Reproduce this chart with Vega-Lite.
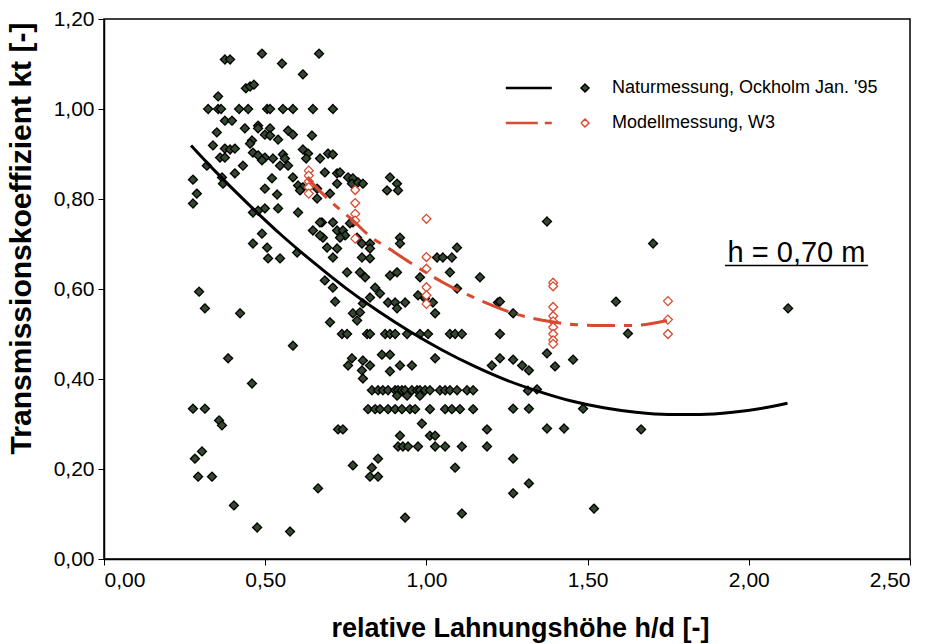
{
  "$schema": "https://vega.github.io/schema/vega-lite/v6.json",
  "width": 806,
  "height": 540,
  "autosize": {"type": "none"},
  "padding": {"left": 104, "top": 19, "right": 42, "bottom": 86},
  "background": "#ffffff",
  "config": {
    "view": {"stroke": "#000000", "strokeWidth": 1.5},
    "font": "Liberation Sans",
    "axis": {
      "grid": false,
      "domainColor": "#000000",
      "domainWidth": 1.5,
      "tickColor": "#000000",
      "tickSize": 6,
      "labelFont": "Liberation Sans",
      "labelFontSize": 21,
      "labelColor": "#000000",
      "titleFont": "Liberation Sans",
      "titleFontSize": 27,
      "titleFontWeight": "bold",
      "titleColor": "#000000"
    }
  },
  "datasets": {
    "obs": [
      {"s":"N","x":0.375,"y":1.110},{"s":"N","x":0.391,"y":1.110},{"s":"N","x":0.490,"y":1.123},{"s":"N","x":0.667,"y":1.123},{"s":"N","x":0.552,"y":1.101},{"s":"N","x":0.617,"y":1.077},
      {"s":"N","x":0.440,"y":1.046},{"s":"N","x":0.453,"y":1.050},{"s":"N","x":0.465,"y":1.054},{"s":"N","x":0.354,"y":1.028},
      {"s":"N","x":0.323,"y":1.0},{"s":"N","x":0.354,"y":1.0},{"s":"N","x":0.363,"y":1.0},{"s":"N","x":0.419,"y":1.0},{"s":"N","x":0.447,"y":1.0},{"s":"N","x":0.506,"y":1.0},{"s":"N","x":0.515,"y":1.0},{"s":"N","x":0.555,"y":1.0},{"s":"N","x":0.586,"y":1.0},{"s":"N","x":0.648,"y":1.0},{"s":"N","x":0.710,"y":1.0},
      {"s":"N","x":0.375,"y":0.974},{"s":"N","x":0.397,"y":0.974},{"s":"N","x":0.478,"y":0.963},{"s":"N","x":0.478,"y":0.957},{"s":"N","x":0.437,"y":0.957},{"s":"N","x":0.515,"y":0.957},{"s":"N","x":0.499,"y":0.943},{"s":"N","x":0.515,"y":0.941},{"s":"N","x":0.571,"y":0.952},{"s":"N","x":0.586,"y":0.943},{"s":"N","x":0.645,"y":0.941},{"s":"N","x":0.350,"y":0.948},{"s":"N","x":0.540,"y":0.932},{"s":"N","x":0.459,"y":0.930},{"s":"N","x":0.453,"y":0.923},{"s":"N","x":0.338,"y":0.919},
      {"s":"N","x":0.375,"y":0.912},{"s":"N","x":0.391,"y":0.910},{"s":"N","x":0.406,"y":0.912},{"s":"N","x":0.360,"y":0.892},{"s":"N","x":0.375,"y":0.892},{"s":"N","x":0.462,"y":0.903},{"s":"N","x":0.478,"y":0.897},{"s":"N","x":0.499,"y":0.892},{"s":"N","x":0.490,"y":0.886},{"s":"N","x":0.524,"y":0.890},{"s":"N","x":0.555,"y":0.899},{"s":"N","x":0.561,"y":0.890},{"s":"N","x":0.617,"y":0.910},{"s":"N","x":0.633,"y":0.901},{"s":"N","x":0.627,"y":0.890},{"s":"N","x":0.670,"y":0.890},{"s":"N","x":0.695,"y":0.901},{"s":"N","x":0.710,"y":0.899},
      {"s":"N","x":0.546,"y":0.874},{"s":"N","x":0.571,"y":0.874},{"s":"N","x":0.431,"y":0.874},{"s":"N","x":0.319,"y":0.874},{"s":"N","x":0.406,"y":0.857},{"s":"N","x":0.366,"y":0.848},{"s":"N","x":0.369,"y":0.834},{"s":"N","x":0.276,"y":0.843},{"s":"N","x":0.521,"y":0.846},{"s":"N","x":0.586,"y":0.848},{"s":"N","x":0.685,"y":0.859},{"s":"N","x":0.723,"y":0.857},
      {"s":"N","x":0.499,"y":0.823},{"s":"N","x":0.602,"y":0.830},{"s":"N","x":0.617,"y":0.826},{"s":"N","x":0.608,"y":0.819},{"s":"N","x":0.661,"y":0.823},{"s":"N","x":0.701,"y":0.812},{"s":"N","x":0.661,"y":0.801},{"s":"N","x":0.288,"y":0.812},{"s":"N","x":0.276,"y":0.790},{"s":"N","x":0.537,"y":0.810},{"s":"N","x":0.540,"y":0.779},{"s":"N","x":0.602,"y":0.770},{"s":"N","x":0.499,"y":0.779},{"s":"N","x":0.478,"y":0.774},{"s":"N","x":0.462,"y":0.770},{"s":"N","x":0.676,"y":0.748},{"s":"N","x":0.710,"y":0.748},
      {"s":"N","x":0.732,"y":0.859},{"s":"N","x":0.757,"y":0.848},{"s":"N","x":0.772,"y":0.846},{"s":"N","x":0.769,"y":0.834},{"s":"N","x":0.788,"y":0.837},{"s":"N","x":0.803,"y":0.834},{"s":"N","x":0.723,"y":0.834},{"s":"N","x":0.887,"y":0.848},{"s":"N","x":0.909,"y":0.834},{"s":"N","x":0.878,"y":0.819},{"s":"N","x":0.912,"y":0.819},
      {"s":"N","x":0.723,"y":0.730},{"s":"N","x":0.741,"y":0.730},{"s":"N","x":0.748,"y":0.719},{"s":"N","x":0.732,"y":0.714},{"s":"N","x":0.772,"y":0.748},{"s":"N","x":0.763,"y":0.746},{"s":"N","x":0.800,"y":0.701},{"s":"N","x":0.825,"y":0.701},{"s":"N","x":0.825,"y":0.690},{"s":"N","x":0.785,"y":0.714},{"s":"N","x":0.723,"y":0.690},{"s":"N","x":0.710,"y":0.670},{"s":"N","x":0.800,"y":0.670},{"s":"N","x":0.825,"y":0.668},{"s":"N","x":0.918,"y":0.714},{"s":"N","x":0.918,"y":0.701},{"s":"N","x":1.095,"y":0.692},{"s":"N","x":1.033,"y":0.670},{"s":"N","x":1.051,"y":0.670},{"s":"N","x":1.079,"y":0.670},{"s":"N","x":1.073,"y":0.637},{"s":"N","x":0.980,"y":0.626},{"s":"N","x":0.887,"y":0.630},{"s":"N","x":0.909,"y":0.637},{"s":"N","x":0.754,"y":0.637},{"s":"N","x":0.794,"y":0.637},{"s":"N","x":0.810,"y":0.626},{"s":"N","x":0.710,"y":0.603},{"s":"N","x":1.166,"y":0.626},{"s":"N","x":1.095,"y":0.601},{"s":"N","x":0.841,"y":0.603},{"s":"N","x":0.856,"y":0.590},{"s":"N","x":0.974,"y":0.586},{"s":"N","x":0.996,"y":0.579},{"s":"N","x":0.825,"y":0.581},{"s":"N","x":0.803,"y":0.568},{"s":"N","x":0.881,"y":0.570},{"s":"N","x":0.903,"y":0.570},{"s":"N","x":0.934,"y":0.570},{"s":"N","x":0.909,"y":0.557},{"s":"N","x":1.020,"y":0.570},{"s":"N","x":1.027,"y":0.546},{"s":"N","x":1.222,"y":0.570},{"s":"N","x":0.772,"y":0.546},{"s":"N","x":0.794,"y":0.548},{"s":"N","x":0.785,"y":0.530},{"s":"N","x":0.701,"y":0.526},{"s":"N","x":0.648,"y":0.730},{"s":"N","x":0.670,"y":0.748},{"s":"N","x":0.679,"y":0.714},{"s":"N","x":0.692,"y":0.692},
      {"s":"N","x":0.490,"y":0.723},{"s":"N","x":0.462,"y":0.701},{"s":"N","x":0.506,"y":0.692},{"s":"N","x":0.509,"y":0.668},{"s":"N","x":0.546,"y":0.668},{"s":"N","x":0.599,"y":0.681},{"s":"N","x":0.670,"y":0.719},{"s":"N","x":0.685,"y":0.619},{"s":"N","x":0.717,"y":0.572},{"s":"N","x":0.295,"y":0.594},{"s":"N","x":0.313,"y":0.557},{"s":"N","x":0.422,"y":0.546},{"s":"N","x":0.586,"y":0.474},{"s":"N","x":0.385,"y":0.446},{"s":"N","x":0.459,"y":0.390},{"s":"N","x":0.276,"y":0.334},{"s":"N","x":0.313,"y":0.334},{"s":"N","x":0.357,"y":0.308},{"s":"N","x":0.366,"y":0.297},{"s":"N","x":0.304,"y":0.239},{"s":"N","x":0.282,"y":0.223},{"s":"N","x":0.292,"y":0.183},{"s":"N","x":0.335,"y":0.183},{"s":"N","x":0.664,"y":0.157},{"s":"N","x":0.403,"y":0.119},{"s":"N","x":0.475,"y":0.070},{"s":"N","x":0.577,"y":0.061},
      {"s":"N","x":0.738,"y":0.5},{"s":"N","x":0.754,"y":0.5},{"s":"N","x":0.816,"y":0.5},{"s":"N","x":0.825,"y":0.5},{"s":"N","x":0.872,"y":0.5},{"s":"N","x":0.887,"y":0.5},{"s":"N","x":0.903,"y":0.5},{"s":"N","x":0.940,"y":0.5},{"s":"N","x":0.980,"y":0.5},{"s":"N","x":1.005,"y":0.5},{"s":"N","x":1.073,"y":0.5},{"s":"N","x":1.089,"y":0.5},{"s":"N","x":1.110,"y":0.5},{"s":"N","x":1.228,"y":0.5},
      {"s":"N","x":0.769,"y":0.446},{"s":"N","x":0.757,"y":0.430},{"s":"N","x":0.803,"y":0.441},{"s":"N","x":0.825,"y":0.430},{"s":"N","x":0.800,"y":0.419},{"s":"N","x":0.803,"y":0.401},{"s":"N","x":0.862,"y":0.454},{"s":"N","x":0.887,"y":0.454},{"s":"N","x":0.887,"y":0.417},{"s":"N","x":0.918,"y":0.430},{"s":"N","x":0.955,"y":0.430},{"s":"N","x":1.027,"y":0.446},{"s":"N","x":1.203,"y":0.430},
      {"s":"N","x":0.831,"y":0.375},{"s":"N","x":0.850,"y":0.375},{"s":"N","x":0.865,"y":0.375},{"s":"N","x":0.881,"y":0.375},{"s":"N","x":0.903,"y":0.375},{"s":"N","x":0.912,"y":0.375},{"s":"N","x":0.924,"y":0.375},{"s":"N","x":0.934,"y":0.375},{"s":"N","x":0.955,"y":0.375},{"s":"N","x":0.971,"y":0.375},{"s":"N","x":0.980,"y":0.375},{"s":"N","x":0.996,"y":0.375},{"s":"N","x":1.011,"y":0.375},{"s":"N","x":1.042,"y":0.375},{"s":"N","x":1.058,"y":0.375},{"s":"N","x":1.073,"y":0.375},{"s":"N","x":1.095,"y":0.375},{"s":"N","x":1.126,"y":0.375},{"s":"N","x":1.145,"y":0.375},
      {"s":"N","x":0.909,"y":0.363},{"s":"N","x":0.940,"y":0.363},{"s":"N","x":0.980,"y":0.363},
      {"s":"N","x":0.819,"y":0.333},{"s":"N","x":0.841,"y":0.333},{"s":"N","x":0.856,"y":0.333},{"s":"N","x":0.881,"y":0.333},{"s":"N","x":0.903,"y":0.333},{"s":"N","x":0.924,"y":0.333},{"s":"N","x":0.949,"y":0.333},{"s":"N","x":0.965,"y":0.333},{"s":"N","x":1.011,"y":0.333},{"s":"N","x":1.058,"y":0.333},{"s":"N","x":1.079,"y":0.333},{"s":"N","x":1.104,"y":0.333},{"s":"N","x":1.145,"y":0.333},
      {"s":"N","x":0.986,"y":0.301},{"s":"N","x":0.726,"y":0.288},{"s":"N","x":0.741,"y":0.288},{"s":"N","x":1.188,"y":0.288},{"s":"N","x":0.918,"y":0.274},{"s":"N","x":1.011,"y":0.274},{"s":"N","x":1.027,"y":0.274},
      {"s":"N","x":0.912,"y":0.25},{"s":"N","x":0.927,"y":0.25},{"s":"N","x":0.943,"y":0.25},{"s":"N","x":0.974,"y":0.25},{"s":"N","x":1.027,"y":0.25},{"s":"N","x":1.058,"y":0.25},{"s":"N","x":1.110,"y":0.25},{"s":"N","x":1.188,"y":0.25},
      {"s":"N","x":0.850,"y":0.223},{"s":"N","x":0.772,"y":0.208},{"s":"N","x":0.831,"y":0.203},{"s":"N","x":0.825,"y":0.183},{"s":"N","x":0.850,"y":0.183},{"s":"N","x":1.089,"y":0.203},{"s":"N","x":0.934,"y":0.092},{"s":"N","x":1.110,"y":0.101},
      {"s":"N","x":1.374,"y":0.750},{"s":"N","x":1.703,"y":0.701},{"s":"N","x":1.228,"y":0.572},{"s":"N","x":1.269,"y":0.546},{"s":"N","x":1.588,"y":0.572},{"s":"N","x":2.122,"y":0.557},{"s":"N","x":1.625,"y":0.501},{"s":"N","x":1.228,"y":0.446},{"s":"N","x":1.269,"y":0.443},{"s":"N","x":1.297,"y":0.430},{"s":"N","x":1.318,"y":0.419},{"s":"N","x":1.374,"y":0.457},{"s":"N","x":1.399,"y":0.428},{"s":"N","x":1.455,"y":0.443},{"s":"N","x":1.315,"y":0.374},{"s":"N","x":1.343,"y":0.377},{"s":"N","x":1.486,"y":0.334},{"s":"N","x":1.269,"y":0.334},{"s":"N","x":1.318,"y":0.334},{"s":"N","x":1.374,"y":0.290},{"s":"N","x":1.427,"y":0.290},{"s":"N","x":1.666,"y":0.288},{"s":"N","x":1.269,"y":0.223},{"s":"N","x":1.318,"y":0.168},{"s":"N","x":1.269,"y":0.146},{"s":"N","x":1.520,"y":0.112},
      {"s":"M","x":0.635,"y":0.863},{"s":"M","x":0.635,"y":0.852},{"s":"M","x":0.635,"y":0.839},{"s":"M","x":0.635,"y":0.826},{"s":"M","x":0.635,"y":0.812},
      {"s":"M","x":0.779,"y":0.820},{"s":"M","x":0.779,"y":0.791},{"s":"M","x":0.779,"y":0.767},{"s":"M","x":0.779,"y":0.752},{"s":"M","x":0.779,"y":0.712},
      {"s":"M","x":1.0,"y":0.756},{"s":"M","x":1.0,"y":0.671},{"s":"M","x":1.0,"y":0.645},{"s":"M","x":1.0,"y":0.604},{"s":"M","x":1.0,"y":0.586},{"s":"M","x":1.0,"y":0.567},
      {"s":"M","x":1.393,"y":0.614},{"s":"M","x":1.393,"y":0.606},{"s":"M","x":1.393,"y":0.560},{"s":"M","x":1.393,"y":0.540},{"s":"M","x":1.393,"y":0.528},{"s":"M","x":1.393,"y":0.515},{"s":"M","x":1.393,"y":0.500},{"s":"M","x":1.393,"y":0.486},{"s":"M","x":1.393,"y":0.478},
      {"s":"M","x":1.749,"y":0.573},{"s":"M","x":1.749,"y":0.532},{"s":"M","x":1.749,"y":0.500}
    ],
    "fit": [
      {"s":"N","x":0.27,"y":0.919},{"s":"N","x":0.35,"y":0.858},{"s":"N","x":0.45,"y":0.787},{"s":"N","x":0.55,"y":0.720},{"s":"N","x":0.65,"y":0.659},{"s":"N","x":0.75,"y":0.602},{"s":"N","x":0.85,"y":0.551},{"s":"N","x":0.95,"y":0.505},{"s":"N","x":1.05,"y":0.464},{"s":"N","x":1.15,"y":0.428},{"s":"N","x":1.25,"y":0.397},{"s":"N","x":1.35,"y":0.372},{"s":"N","x":1.45,"y":0.351},{"s":"N","x":1.55,"y":0.336},{"s":"N","x":1.65,"y":0.326},{"s":"N","x":1.75,"y":0.321},{"s":"N","x":1.85,"y":0.321},{"s":"N","x":1.95,"y":0.326},{"s":"N","x":2.05,"y":0.336},{"s":"N","x":2.12,"y":0.346},
      {"s":"M","x":0.63,"y":0.847},{"s":"M","x":0.71,"y":0.790},{"s":"M","x":0.773,"y":0.752},{"s":"M","x":0.825,"y":0.717},{"s":"M","x":0.877,"y":0.693},{"s":"M","x":0.949,"y":0.659},{"s":"M","x":1.0,"y":0.636},{"s":"M","x":1.05,"y":0.615},{"s":"M","x":1.176,"y":0.572},{"s":"M","x":1.27,"y":0.546},{"s":"M","x":1.39,"y":0.527},{"s":"M","x":1.52,"y":0.519},{"s":"M","x":1.64,"y":0.519},{"s":"M","x":1.746,"y":0.530}
    ]
  },
  "layer": [
    {
      "data": {"name": "obs"},
      "mark": {"type": "point", "shape": "diamond", "filled": true, "size": 81, "strokeWidth": 1.3, "opacity": 1},
      "encoding": {
        "x": {"field": "x", "type": "quantitative", "scale": {"domain": [0, 2.5], "nice": false, "zero": false},
          "axis": {"values": [0, 0.5, 1, 1.5, 2, 2.5], "labelExpr": "replace(format(datum.value, '.2f'), '.', ',')", "title": "relative Lahnungshöhe h/d [-]", "labelPadding": 4, "titleX": 416, "titleY": 69, "titleBaseline": "middle", "titleAlign": "center"}},
        "y": {"field": "y", "type": "quantitative", "scale": {"domain": [0, 1.2], "nice": false, "zero": false},
          "axis": {"values": [0, 0.2, 0.4, 0.6, 0.8, 1.0, 1.2], "labelExpr": "replace(format(datum.value, '.2f'), '.', ',')", "title": "Transmissionskoeffizient kt [-]", "titleFontSize": 30, "labelPadding": 4, "titleX": -83, "titleY": 219, "titleBaseline": "middle", "titleAlign": "center", "titleAngle": -90}},
        "fill": {"field": "s", "type": "nominal", "scale": {"domain": ["N", "M"], "range": ["#33482f", "#ffffff"]},
          "legend": {"title": null, "orient": "none", "legendX": 472, "legendY": 60, "padding": 0, "rowPadding": 17, "labelFont": "Liberation Sans", "labelFontSize": 18, "labelColor": "#000000", "labelOffset": 18, "symbolSize": 64, "symbolStrokeWidth": 1.5, "symbolType": "M-19.8,-0.15L-8.3,-0.15M-19.8,0.15L-8.3,0.15M-1,0L0,-1L1,0L0,1Z", "labelLimit": 400, "labelExpr": "datum.label == 'N' ? \"Naturmessung, Ockholm Jan. '95\" : 'Modellmessung, W3'"}},
        "stroke": {"field": "s", "type": "nominal", "scale": {"domain": ["N", "M"], "range": ["#000000", "#d84a30"]},
          "legend": {"title": null, "orient": "none", "legendX": 472, "legendY": 60, "padding": 0, "rowPadding": 17, "labelFont": "Liberation Sans", "labelFontSize": 18, "labelColor": "#000000", "labelOffset": 18, "symbolSize": 64, "symbolStrokeWidth": 1.5, "symbolType": "M-19.8,-0.15L-8.3,-0.15M-19.8,0.15L-8.3,0.15M-1,0L0,-1L1,0L0,1Z", "labelLimit": 400, "labelExpr": "datum.label == 'N' ? \"Naturmessung, Ockholm Jan. '95\" : 'Modellmessung, W3'"}},
        "strokeDash": {"field": "s", "type": "nominal", "scale": {"domain": ["N", "M"], "range": [[1, 0], [32, 7, 8, 7]]},
          "legend": {"title": null, "orient": "none", "legendX": 472, "legendY": 60, "padding": 0, "rowPadding": 17, "labelFont": "Liberation Sans", "labelFontSize": 18, "labelColor": "#000000", "labelOffset": 18, "symbolSize": 64, "symbolStrokeWidth": 1.5, "symbolType": "M-19.8,-0.15L-8.3,-0.15M-19.8,0.15L-8.3,0.15M-1,0L0,-1L1,0L0,1Z", "labelLimit": 400, "labelExpr": "datum.label == 'N' ? \"Naturmessung, Ockholm Jan. '95\" : 'Modellmessung, W3'"}}
      }
    },
    {
      "data": {"name": "fit"},
      "transform": [{"filter": "datum.s == 'N'"}],
      "mark": {"type": "line", "color": "#000000", "strokeWidth": 3, "interpolate": "monotone"},
      "encoding": {"x": {"field": "x", "type": "quantitative"}, "y": {"field": "y", "type": "quantitative"}}
    },
    {
      "data": {"name": "fit"},
      "transform": [{"filter": "datum.s == 'M'"}],
      "mark": {"type": "line", "color": "#d84a30", "strokeWidth": 3, "strokeDash": [28, 9, 8, 9], "interpolate": "monotone"},
      "encoding": {"x": {"field": "x", "type": "quantitative"}, "y": {"field": "y", "type": "quantitative"}}
    },
    {
      "data": {"values": [{"label": "h = 0,70 m"}]},
      "mark": {"type": "text", "font": "Liberation Sans", "fontSize": 29, "color": "#000000", "align": "center", "baseline": "middle"},
      "encoding": {"x": {"datum": 2.148}, "y": {"datum": 0.681}, "text": {"field": "label"}}
    },
    {
      "data": {"values": [{"label": "h = 0,70 m"}]},
      "mark": {"type": "rule", "color": "#000000", "strokeWidth": 1.5},
      "encoding": {"x": {"datum": 1.926}, "x2": {"datum": 2.37}, "y": {"datum": 0.652}}
    }
  ]
}
